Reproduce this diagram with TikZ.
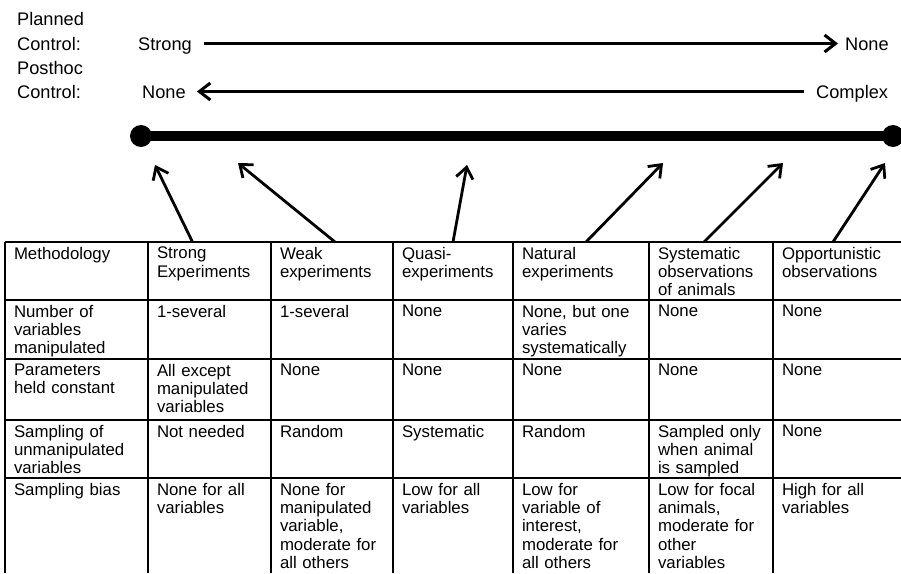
\documentclass[tikz,border=0pt]{standalone}
\usepackage{fontspec}
\setmainfont{Liberation Sans}
\usetikzlibrary{arrows.meta,positioning}

\begin{document}
\begin{tikzpicture}[x=1pt,y=-1pt,>={Straight Barb[length=11pt,width=17pt]},
  lbl/.style={anchor=base west,inner sep=0pt,text height=13pt,text depth=0pt,font=\fontsize{18.2}{20}\selectfont},
  cell/.style={anchor=north west,inner xsep=9pt,inner ysep=5pt,outer sep=0pt,align=left,text width=#1,font=\fontsize{16.8}{18.4}\selectfont},
  hrule/.style={line width=2pt},
  vrule/.style={line width=1.2pt},
  ptr/.style={->,line width=2.8pt}]
\useasboundingbox (0,0) rectangle (901,573);
% control labels
\node[lbl] (plan) at (17,25) {Planned};
\node[lbl] (planC) at (17,50) {Control:};
\node[lbl] (plStrong) at (138,50) {Strong};
\node[lbl] (plNone) at (845,50) {None};
\node[lbl] (post) at (17,74) {Posthoc};
\node[lbl] (postC) at (17,98) {Control:};
\node[lbl] (poNone) at (142,98) {None};
\node[lbl] (poComplex) at (816,98) {Complex};
\draw[->,line width=3pt] ([xshift=12pt]plStrong.east) -- ([xshift=-7pt]plNone.west);
\draw[->,line width=3pt] ([xshift=-12pt]poComplex.west) -- ([xshift=11pt]poNone.east);
% the continuum bar
\coordinate (barL) at (141,136);
\coordinate (barR) at (893,136);
\draw[line width=10pt] (barL) -- (barR);
\fill (barL) circle (11pt);
\fill (barR) circle (11pt);
% table rules
\foreach \y in {242,300,359,420,478} \draw[hrule] (5,\y) -- (901,\y);
\foreach \x in {5,148,271,393,513,649,773} \draw[vrule] (\x,242) -- (\x,573);
% header row
\node[cell=125pt] (hMeth) at (5,242) {Methodology};
\node[cell=105pt] (hStrong) at (148,242) {Strong\\Experiments};
\node[cell=104pt] (hWeak) at (271,242) {Weak\\experiments};
\node[cell=102pt] (hQuasi) at (393,242) {Quasi-\\experiments};
\node[cell=118pt] (hNat) at (513,242) {Natural\\experiments};
\node[cell=106pt] (hSys) at (649,242) {Systematic\\observations\\of animals};
\node[cell=110pt] (hOpp) at (773,242) {Opportunistic\\observations};
% number of variables manipulated
\node[cell=125pt] (nMeth) at (5,300) {Number of\\variables\\manipulated};
\node[cell=105pt] (nStrong) at (148,300) {1-several};
\node[cell=104pt] (nWeak) at (271,300) {1-several};
\node[cell=102pt] (nQuasi) at (393,300) {None};
\node[cell=118pt] (nNat) at (513,300) {None, but one\\varies\\systematically};
\node[cell=106pt] (nSys) at (649,300) {None};
\node[cell=110pt] (nOpp) at (773,300) {None};
% parameters held constant
\node[cell=125pt] (pMeth) at (5,359) {Parameters\\held constant};
\node[cell=105pt] (pStrong) at (148,359) {All except\\manipulated\\variables};
\node[cell=104pt] (pWeak) at (271,359) {None};
\node[cell=102pt] (pQuasi) at (393,359) {None};
\node[cell=118pt] (pNat) at (513,359) {None};
\node[cell=106pt] (pSys) at (649,359) {None};
\node[cell=110pt] (pOpp) at (773,359) {None};
% sampling of unmanipulated variables
\node[cell=125pt] (sMeth) at (5,420) {Sampling of\\unmanipulated\\variables};
\node[cell=105pt] (sStrong) at (148,420) {Not needed};
\node[cell=104pt] (sWeak) at (271,420) {Random};
\node[cell=102pt] (sQuasi) at (393,420) {Systematic};
\node[cell=118pt] (sNat) at (513,420) {Random};
\node[cell=106pt] (sSys) at (649,420) {Sampled only\\when animal\\is sampled};
\node[cell=110pt] (sOpp) at (773,420) {None};
% sampling bias
\node[cell=125pt] (bMeth) at (5,478) {Sampling bias};
\node[cell=105pt] (bStrong) at (148,478) {None for all\\variables};
\node[cell=104pt] (bWeak) at (271,478) {None for\\manipulated\\variable,\\moderate for\\all others};
\node[cell=102pt] (bQuasi) at (393,478) {Low for all\\variables};
\node[cell=118pt] (bNat) at (513,478) {Low for\\variable of\\interest,\\moderate for\\all others};
\node[cell=106pt] (bSys) at (649,478) {Low for focal\\animals,\\moderate for\\other\\variables};
\node[cell=110pt] (bOpp) at (773,478) {High for all\\variables};
% pointers from methods to the bar
\coordinate (tStrong) at (155,165);
\coordinate (tWeak) at (238,163);
\coordinate (tQuasi) at (467,165);
\coordinate (tNat) at (663,163);
\coordinate (tSys) at (783,163);
\coordinate (tOpp) at (885,163);
\draw[ptr] ([xshift=-17pt]hStrong.north) -- (tStrong);
\draw[ptr] ([xshift=3pt]hWeak.north) -- (tWeak);
\draw[ptr] (hQuasi.north) -- (tQuasi);
\draw[ptr] ([xshift=5pt]hNat.north) -- (tNat);
\draw[ptr] ([xshift=-7pt]hSys.north) -- (tSys);
\draw[ptr] ([xshift=-4pt]hOpp.north) -- (tOpp);
\end{tikzpicture}
\end{document}
